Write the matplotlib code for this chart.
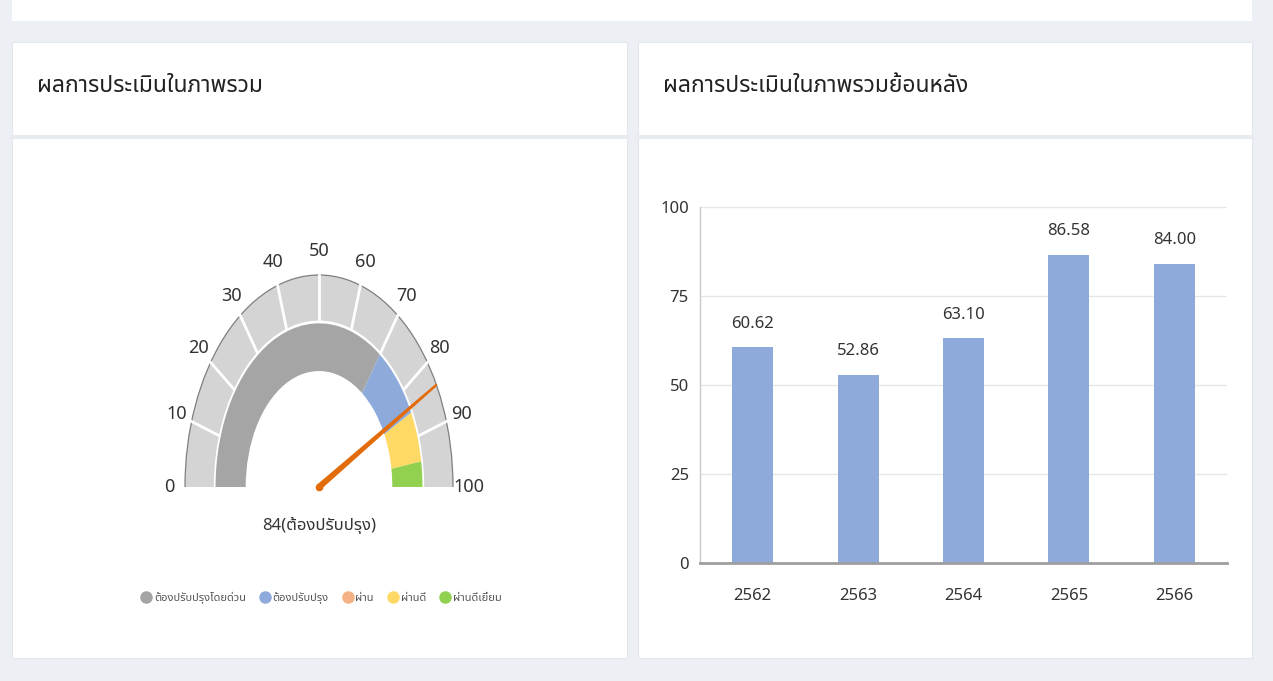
import numpy as np
import matplotlib
matplotlib.use("Agg")
import matplotlib.pyplot as plt
from matplotlib import font_manager
from matplotlib.ft2font import FT2Font
from matplotlib.patches import Wedge, Arc, Rectangle
from matplotlib.lines import Line2D

# gauge data
gauge_value = 84
gauge_status = "ต้องปรับปรุง"
gauge_ticks = [0, 10, 20, 30, 40, 50, 60, 70, 80, 90, 100]
band_labels = ["ต้องปรับปรุงโดยด่วน", "ต้องปรับปรุง", "ผ่าน", "ผ่านดี", "ผ่านดีเยี่ยม"]
band_from = [0, 70, 85, 85, 95]
band_to = [70, 85, 85, 95, 100]
band_colors = ["#a5a5a5", "#8eaadb", "#f4b183", "#ffd966", "#92d050"]

# history data
years = ["2562", "2563", "2564", "2565", "2566"]
scores = [60.62, 52.86, 63.10, 86.58, 84.00]
score_ticks = [0, 25, 50, 75, 100]

title_left = "ผลการประเมินในภาพรวม"
title_right = "ผลการประเมินในภาพรวมย้อนหลัง"


def find_thai_font():
    '''
    Look for an installed family that has Thai glyphs
    '''
    found = []
    seen = set()
    for f in font_manager.fontManager.ttflist:
        if f.name in seen:
            continue
        seen.add(f.name)
        try:
            cmap = FT2Font(f.fname).get_charmap()
        except Exception:
            continue
        if 0x0E1C in cmap and 0x0E49 in cmap:
            found.append(f.name)
    for pref in ["Noto Sans Thai", "Noto Sans Thai UI", "Noto Sans Thai Looped", "Loma", "Garuda", "Sarabun"]:
        if pref in found:
            return pref
    return found[0] if found else None


thai = find_thai_font()
families = ["Noto Sans"] + ([thai] if thai else []) + ["DejaVu Sans"]
plt.rcParams["font.family"] = families

W, H = 1273, 681


def px(x0, y0, x1, y1):
    return [x0 / W, 1 - y1 / H, (x1 - x0) / W, (y1 - y0) / H]


fig = plt.figure(figsize=(W / 100, H / 100), dpi=100, facecolor="#eceff4")

# page background and cards
bg = fig.add_axes([0, 0, 1, 1], zorder=0)
bg.set_xlim(0, W)
bg.set_ylim(H, 0)
bg.axis("off")
bg.add_patch(Rectangle((12, 0), 1240, 21, fc="white", ec="none"))
for x0, x1, title in [(12, 627, title_left), (638, 1252, title_right)]:
    bg.add_patch(Rectangle((x0, 42), x1 - x0, 616, fc="white", ec="#e3e6ec", lw=0.8))
    bg.plot([x0, x1], [137, 137], color="#e8ebf0", lw=3)
    bg.text(x0 + 25, 86, title, fontsize=16.5, va="center", ha="left", color="#222222")

# gauge
cx, cy, rx, ry = 319, 487, 134, 212
gx = (-1.6, 1.6)
gy = (-0.6, 1.25)
ax = fig.add_axes(px(cx + gx[0] * rx, cy - gy[1] * ry, cx + gx[1] * rx, cy - gy[0] * ry), zorder=1)
ax.set_xlim(*gx)
ax.set_ylim(*gy)
ax.set_aspect("auto")
ax.axis("off")


def ang(v):
    return 180 - 1.8 * v


ax.add_patch(Wedge((0, 0), 1.0, 0, 180, width=0.215, fc="#d4d4d4", ec="none"))
for v in gauge_ticks[1:-1]:
    t = np.radians(ang(v))
    ax.plot([0.785 * np.cos(t), 1.0 * np.cos(t)], [0.785 * np.sin(t), 1.0 * np.sin(t)],
            color="white", lw=2)
ax.add_patch(Arc((0, 0), 2, 2, theta1=0, theta2=180, color="#7f7f7f", lw=0.9))

for lo, hi, c in zip(band_from, band_to, band_colors):
    if hi > lo:
        ax.add_patch(Wedge((0, 0), 0.772, ang(hi), ang(lo), width=0.225, fc=c, ec="none"))

for v in gauge_ticks:
    t = np.radians(ang(v))
    ax.text(1.115 * np.cos(t), 1.115 * np.sin(t), str(v), ha="center", va="center",
            fontsize=13, color="#333333")

# needle, tapered in screen pixels
t = np.radians(ang(gauge_value))
d = np.array([rx * np.cos(t), ry * np.sin(t)])
d = d / np.hypot(*d)
p = np.array([-d[1], d[0]])
tip = np.array([np.cos(t), np.sin(t)])
scale = np.array([rx, ry])
pts = [2.4 * p / scale, tip + 0.5 * p / scale, tip - 0.5 * p / scale, -2.4 * p / scale]
ax.fill([q[0] for q in pts], [q[1] for q in pts], color="#e36c0a", zorder=3)
ax.plot([0], [0], "o", ms=4.5, color="#e36c0a", zorder=3)

ax.text(0, -0.18, "%d(%s)" % (gauge_value, gauge_status), ha="center", va="center",
        fontsize=12, color="#333333")

handles = [Line2D([], [], marker="o", ls="", ms=8, mfc=c, mec=c) for c in band_colors]
fig.legend(handles, band_labels, loc="center", bbox_to_anchor=(321 / W, 1 - 598 / H),
           ncol=5, frameon=False, fontsize=8, handletextpad=0.2, columnspacing=1.2,
           handlelength=1.0, labelcolor="#555555", borderaxespad=0)

# history bars
bx = fig.add_axes(px(700, 207, 1227, 563), zorder=1)
bx.set_facecolor("none")
xs = np.arange(len(years))
bars = bx.bar(xs, scores, width=0.39, color="#8eaadb", zorder=2)
for x, s in zip(xs, scores):
    bx.annotate("%.2f" % s, (x, s), xytext=(0, 17), textcoords="offset points",
                ha="center", va="center", fontsize=12, color="#333333")
bx.set_xlim(-0.5, len(years) - 0.5)
bx.set_ylim(0, 100)
bx.set_yticks(score_ticks)
bx.set_xticks(xs)
bx.set_xticklabels(years)
bx.grid(axis="y", color="#e6e6e6", lw=1, zorder=0)
bx.set_axisbelow(True)
for s in ["top", "right"]:
    bx.spines[s].set_visible(False)
bx.spines["left"].set_color("#c8c8c8")
bx.spines["left"].set_linewidth(1)
bx.spines["bottom"].set_color("#9e9e9e")
bx.spines["bottom"].set_linewidth(2)
bx.tick_params(axis="y", length=0, pad=8, labelsize=12, labelcolor="#333333")
bx.tick_params(axis="x", length=0, pad=18, labelsize=12, labelcolor="#333333")

fig.savefig("out.png", dpi=100, facecolor=fig.get_facecolor())
